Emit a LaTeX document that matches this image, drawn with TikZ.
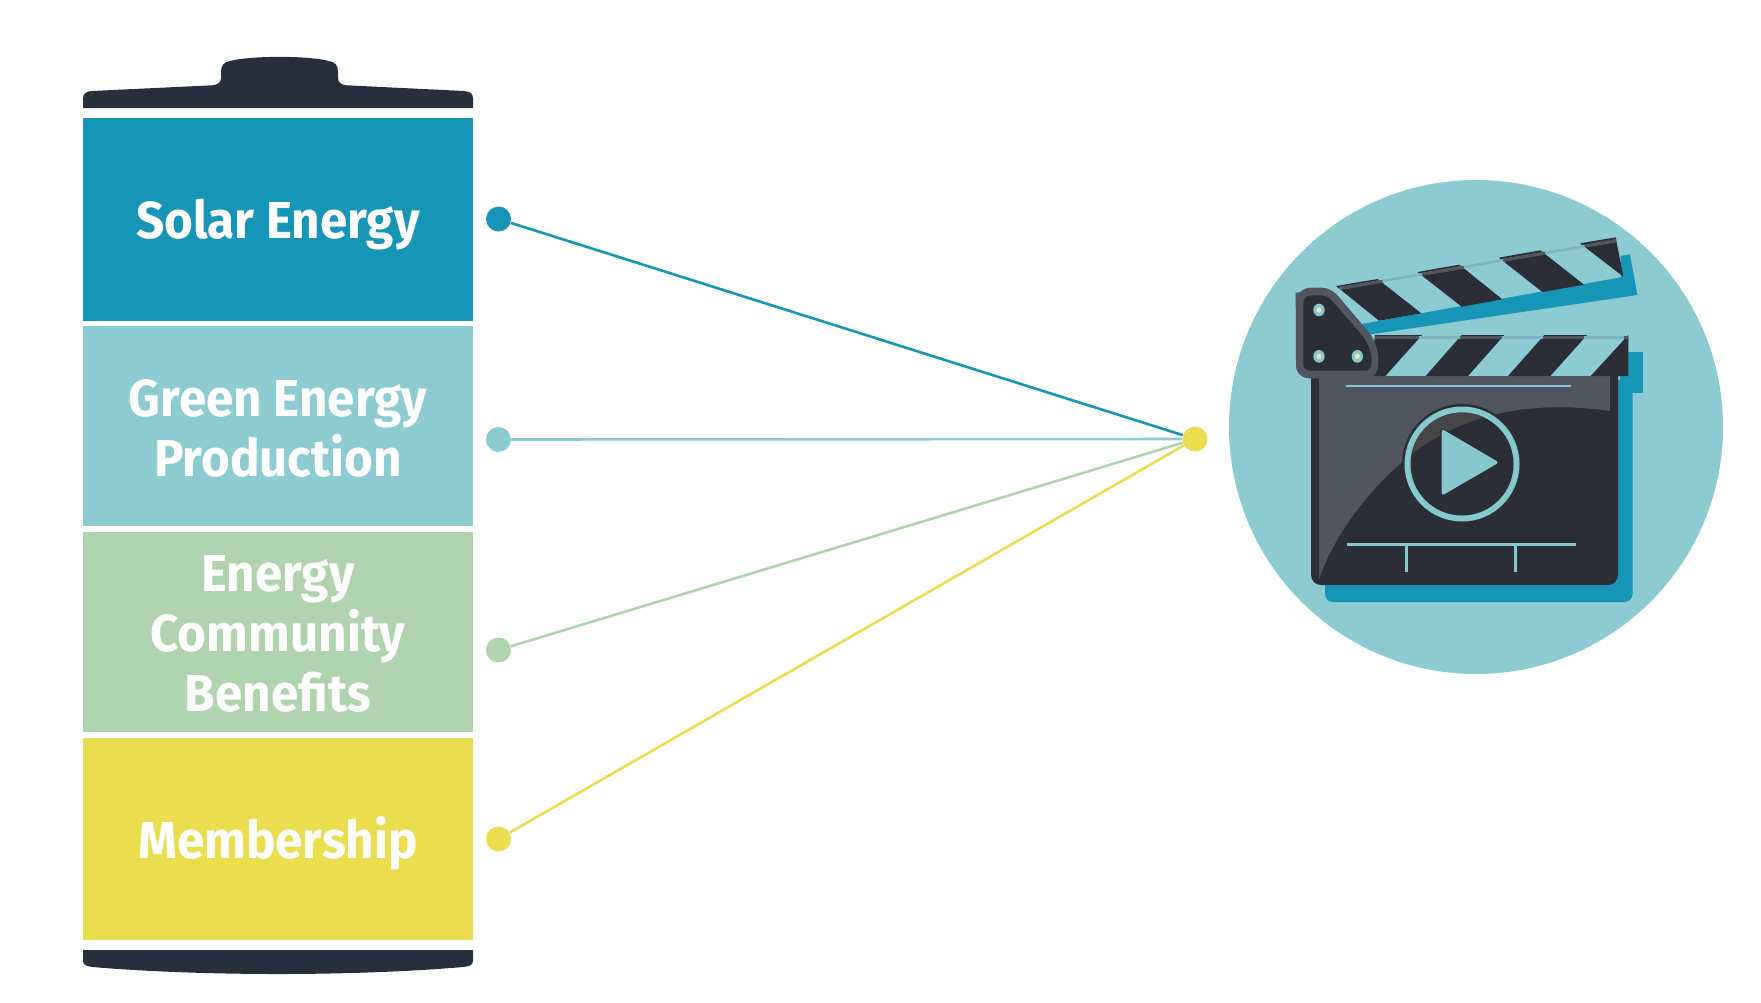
\documentclass[tikz,border=0pt]{standalone}
\usepackage{fontspec}
\newfontfamily\barfont[FakeStretch=0.95]{Fira Sans}
\usetikzlibrary{positioning}
\definecolor{solarblue}{HTML}{1795B6}
\definecolor{greenlight}{HTML}{8BCBD1}
\definecolor{communitygreen}{HTML}{AFD3AC}
\definecolor{memberyellow}{HTML}{EADE4F}
\definecolor{capdark}{HTML}{26303C}
\definecolor{boarddark}{HTML}{2B2E36}
\definecolor{boardgray}{HTML}{50555F}
\definecolor{ringteal}{HTML}{85C8CE}
\definecolor{stripeline}{HTML}{7FB3C0}
\definecolor{glossbrown}{HTML}{454548}
\definecolor{rivetcream}{HTML}{F6DDB4}
\tikzset{
  bar/.style={rectangle, inner sep=0pt, minimum width=195pt},
  barlabel/.style={text=white, align=center, font=\barfont\bfseries\fontsize{26}{30}\selectfont, inner sep=0pt},
  dot/.style={circle, inner sep=0pt, minimum size=12.5pt},
  link/.style={line width=1.3pt},
  clapzoom/.style={shift={(1280,220)}, x=0.16667pt, y=-0.16667pt}
}

\begin{document}
\begin{tikzpicture}[x=0.5pt, y=-0.5pt]
\useasboundingbox (0,0) rectangle (1761,1002);

% Battery caps:
\fill[capdark] (83,108) -- (83,98) .. controls (83,93) and (87,91.5) .. (92,91) -- (212,85.3)
  .. controls (218,85) and (221,82) .. (221,78) -- (221,72) .. controls (221,65) and (224,62) .. (230,61)
  .. controls (250,55.5) and (309,55.5) .. (329,61) .. controls (335,62) and (338,65) .. (338,72) -- (338,78)
  .. controls (338,82) and (341,85) .. (347,85.3) -- (464,91) .. controls (469,91.5) and (473,93) .. (473,98)
  -- (473,108) -- cycle;
\fill[capdark] (83,950) -- (83,961) .. controls (83,965) and (87,966.5) .. (93,967)
  .. controls (150,972) and (220,974) .. (278,974) .. controls (336,974) and (406,972) .. (463,967)
  .. controls (469,966.5) and (473,965) .. (473,961) -- (473,950) -- cycle;

% Battery cells:
\node[bar, fill=solarblue, minimum height=101.5pt] (solar) at (278,219.5) {};
\node[bar, fill=greenlight, minimum height=100pt] (green) at (278,426) {};
\node[bar, fill=communitygreen, minimum height=100pt] (community) at (278,632) {};
\node[bar, fill=memberyellow, minimum height=101pt] (member) at (278,839) {};

% Cell labels:
\node[barlabel] (solarlabel) at (278,225) {Solar Energy};
\node[barlabel] (greenlabel) at (278,428) {Green Energy\\Production};
\node[barlabel] (communitylabel) at (278,633.5) {Energy\\Community\\Benefits};
\node[barlabel] (memberlabel) at (278,843.5) {Membership};

% Dots and links:
\node[dot, fill=solarblue] (solardot) at (498.5,219) {};
\node[dot, fill=greenlight] (greendot) at (498.5,439.5) {};
\node[dot, fill=communitygreen] (communitydot) at (498.5,650) {};
\node[dot, fill=memberyellow] (memberdot) at (498.5,839) {};
\node[dot, fill=memberyellow] (hub) at (1195,439) {};
\draw[link, solarblue] (solardot) -- (hub);
\draw[link, greenlight] (greendot) -- (hub);
\draw[link, communitygreen] (communitydot) -- (hub);
\draw[link, memberyellow] (memberdot) -- (hub);

% Disc behind the clapperboard:
\fill[greenlight] (1476,427) circle (247);

% Blue shadow and tab:
\fill[solarblue, rounded corners=4pt] (1325,380) rectangle (1632.5,602);
\fill[solarblue] (1620,352) rectangle (1643,393);

% Board:
\begin{scope}
  \clip (1300,376) rectangle (1630,600);
  \fill[boarddark, rounded corners=5pt] (1311,360) rectangle (1618,585);
\end{scope}
\def\glosspath{(1610,411) .. controls (1575,406) and (1535,405) .. (1497,414)
  .. controls (1454,424) and (1419,446) .. (1400,464) .. controls (1370,490) and (1335,533) .. (1319,579)
  -- (1319,376) -- (1610,376) -- cycle}
\fill[boardgray] \glosspath;
\draw[ringteal, line width=1pt] (1346,385.5) -- (1571,385.5);
\draw[ringteal, line width=1.6pt] (1346.5,544.5) -- (1576,544.5);
\draw[ringteal, line width=1.5pt] (1406,544.5) -- (1406,572);
\draw[ringteal, line width=1.5pt] (1515,544.5) -- (1515,572);

% Play button:
\fill[boarddark] (1462,464) circle (60);
\fill[ringteal] (1462,464) circle (57.5);
\fill[boarddark] (1462,464) circle (51.5);
\begin{scope}
  \clip (1462,464) circle (51.5);
  \fill[glossbrown] \glosspath;
\end{scope}
\draw[boarddark, fill=ringteal, line width=0.6pt, rounded corners=2pt] (1441,427.5) -- (1500.5,462.5) -- (1441,497) -- cycle;

% Clapper, in zoomed units:
\begin{scope}[clapzoom]
  % Blue stick:
  \fill[solarblue] (245,312) -- (1022,172) -- (1022,108) -- (1050,103) -- (1072,225) -- (258,345) -- cycle;
  % Lower stripes:
  \fill[boarddark] (285,345) -- (426,345) -- (316,468) -- (270,468) -- cycle;
  \fill[boarddark] (545,345) -- (673,345) -- (564,468) -- (437,468) -- cycle;
  \fill[boarddark] (793,345) -- (921,345) -- (811,468) -- (684,468) -- cycle;
  \fill[boarddark] (1045,345) -- (1045,468) -- (932,468) -- cycle;
  \draw[stripeline, line width=1.2pt] (285,353) -- (1045,353);
  \foreach \xa/\xb in {285/418, 541/666, 789/913, 1032/1045}
    \draw[boardgray, line width=1.5pt] (\xa,353) -- (\xb,353);
  % Upper stripes:
  \fill[boarddark] (168,198) -- (293,177) -- (424,280) -- (297,302) -- cycle;
  \fill[boarddark] (412,156) -- (538,134) -- (667,238) -- (545,260) -- cycle;
  \fill[boarddark] (656,113) -- (781,91) -- (912,194) -- (787,216) -- cycle;
  \fill[boarddark] (900,70) -- (1007,52) -- (1030,170) -- cycle;
  \draw[stripeline, line width=1.2pt] (180,205) -- (1010,62);
  \foreach \xa/\ya/\xb/\yb in {182/205/307/184, 426/163/551/142, 670/121/795/99, 914/78/1009/61}
    \draw[boardgray, line width=1.5pt] (\xa,\ya) -- (\xb,\yb);
  % Hinge:
  \fill[boardgray] (47,218) -- (60,217) .. controls (70,207) and (80,203) .. (95,203) -- (125,203)
    .. controls (145,203) and (165,215) .. (180,235) -- (265,335) .. controls (285,360) and (295,390) .. (295,425)
    .. controls (295,450) and (285,475) .. (260,475) -- (90,475) .. controls (65,475) and (48,460) .. (48,435) -- cycle;
  \fill[boarddark] (70,250) .. controls (70,235) and (80,226) .. (95,226) -- (125,226)
    .. controls (140,226) and (150,235) .. (160,247) -- (245,345) .. controls (265,370) and (275,395) .. (275,425)
    .. controls (275,442) and (268,452) .. (255,452) -- (90,452) .. controls (78,452) and (70,444) .. (70,432) -- cycle;
  \foreach \rx/\ry in {117/270, 117/409, 232/409} {
    \fill[ringteal] (\rx,\ry) ellipse (17 and 19);
    \fill[rivetcream] (\rx,\ry) circle (8);
  }
\end{scope}

\end{tikzpicture}
\end{document}
